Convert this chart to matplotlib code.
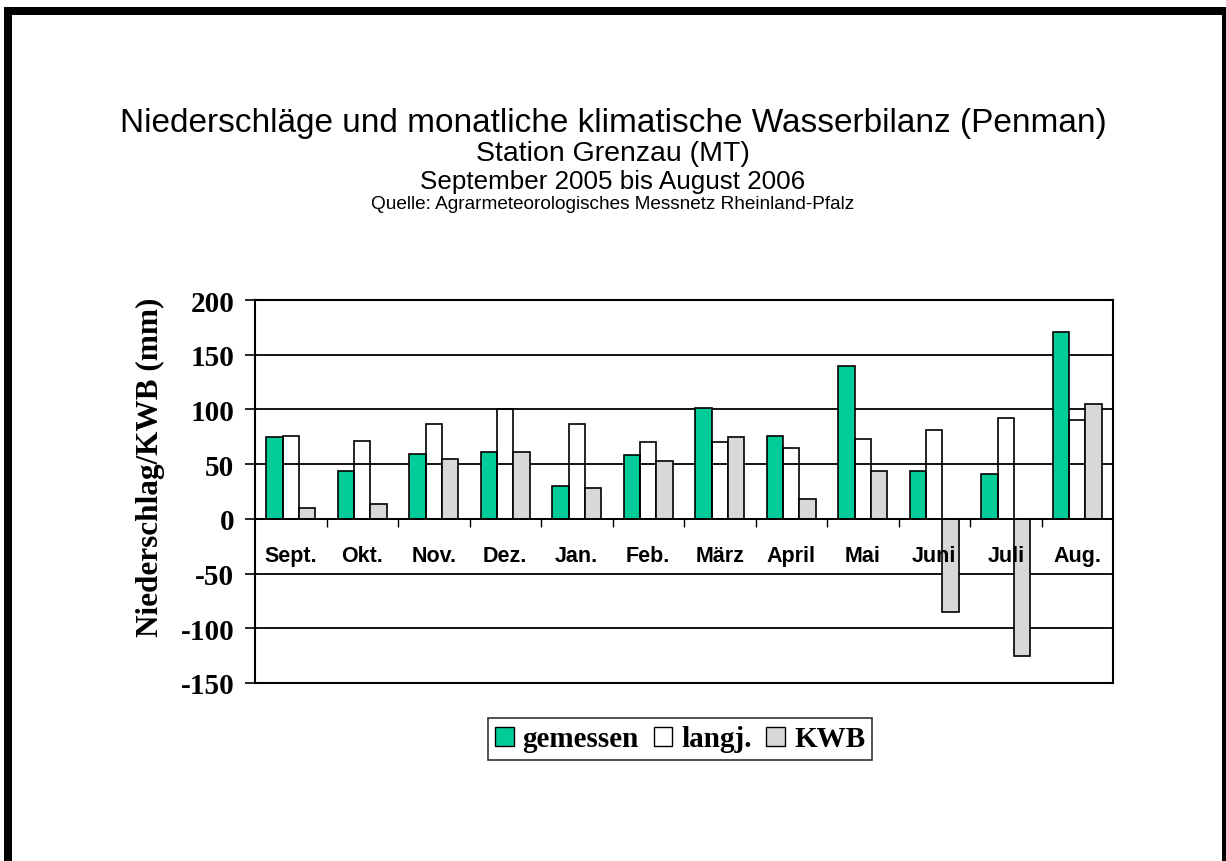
import matplotlib
matplotlib.use('Agg')
import matplotlib.pyplot as plt
from matplotlib.patches import Rectangle, Patch
import numpy as np

# data
months = ['Sept.', 'Okt.', 'Nov.', 'Dez.', 'Jan.', 'Feb.', 'März', 'April', 'Mai', 'Juni', 'Juli', 'Aug.']
gemessen = [75, 44, 59, 61, 30, 58, 101, 76, 140, 44, 41, 171]
langj = [76, 71, 87, 100, 87, 70, 70, 65, 73, 81, 92, 90]
kwb = [10, 14, 55, 61, 28, 53, 75, 18, 44, -85, -125, 105]
yticks = [-150, -100, -50, 0, 50, 100, 150, 200]

green = '#00CC99'
grey = '#D8D8D8'
sans = ['Liberation Sans', 'DejaVu Sans']
serif = ['Liberation Serif', 'DejaVu Serif']

fig = plt.figure(figsize=(12.26, 8.62), dpi=100)
ax = fig.add_axes([255/1226, 1-684/862, (1113-255)/1226, (684-301)/862])

x = np.arange(len(months))
w = 0.228
ax.bar(x - w, gemessen, w, color=green, edgecolor='black', linewidth=1.2, zorder=3, label='gemessen')
ax.bar(x, langj, w, color='none', edgecolor='black', linewidth=1.2, zorder=3, label='langj.')
ax.bar(x + w, kwb, w, color=grey, edgecolor='black', linewidth=1.2, zorder=3, label='KWB')

ax.set_xlim(-0.5, len(months) - 0.5)
ax.set_ylim(yticks[0], yticks[-1])
ax.set_yticks(yticks)
ax.set_yticklabels([str(v) for v in yticks], fontfamily=serif, fontweight='bold', fontsize=21)
ax.tick_params(axis='y', direction='out', length=7, width=1.2, pad=8)
ax.set_xticks([])
ax.yaxis.grid(True, color='black', linewidth=1.3, zorder=0)
ax.set_axisbelow(True)
for s in ax.spines.values():
    s.set_linewidth(1.5)
ax.set_ylabel('Niederschlag/KWB (mm)', fontfamily=serif, fontweight='bold', fontsize=22.5)
ax.yaxis.set_label_coords(-0.105, 0.565)

# category axis along the zero line
loc0 = (0 - yticks[0]) / (yticks[-1] - yticks[0])
sec = ax.secondary_xaxis(loc0)
sec.set_zorder(5)
sec.spines['bottom'].set_linewidth(1.3)
sec.set_xticks(x[:-1] + 0.5, labels=[''] * (len(months) - 1))
sec.set_xticks(x, labels=months, minor=True)
sec.tick_params(which='major', direction='out', length=6, width=1)
sec.tick_params(which='minor', length=0, pad=19)
for t in sec.get_xticklabels(minor=True):
    t.set_fontfamily(sans)
    t.set_fontweight('bold')
    t.set_fontsize(15.5)

# titles
fig.text(0.5, 1-132/862, 'Niederschläge und monatliche klimatische Wasserbilanz (Penman)',
         ha='center', va='baseline', fontfamily=sans, fontsize=24)
fig.text(0.5, 1-161/862, 'Station Grenzau (MT)', ha='center', va='baseline', fontfamily=sans, fontsize=20.5)
fig.text(0.5, 1-189/862, 'September 2005 bis August 2006', ha='center', va='baseline', fontfamily=sans, fontsize=18.7)
fig.text(0.5, 1-209/862, 'Quelle: Agrarmeteorologisches Messnetz Rheinland-Pfalz', ha='center', va='baseline',
         fontfamily=sans, fontsize=13.7)

handles = [Patch(facecolor=green, edgecolor='black', linewidth=1),
           Patch(facecolor='white', edgecolor='black', linewidth=1),
           Patch(facecolor=grey, edgecolor='black', linewidth=1)]
leg = fig.legend(handles, ['gemessen', 'langj.', 'KWB'], loc='center', bbox_to_anchor=(680/1226, 1-740/862),
                 ncol=3, prop={'family': serif, 'weight': 'bold', 'size': 21}, frameon=True, fancybox=False,
                 edgecolor='black', handlelength=0.65, handleheight=0.65, handletextpad=0.3,
                 columnspacing=0.5, borderpad=0.25, borderaxespad=0)
leg.get_frame().set_linewidth(1.2)

# black frame around the picture
for r in [(4, 0, 8, 854), (4, 846, 1222, 8), (1222, 0, 4, 854)]:
    fig.add_artist(Rectangle((r[0]/1226, r[1]/862), r[2]/1226, r[3]/862, transform=fig.transFigure,
                             facecolor='black', edgecolor='none'))

fig.savefig('out.png', dpi=100)
